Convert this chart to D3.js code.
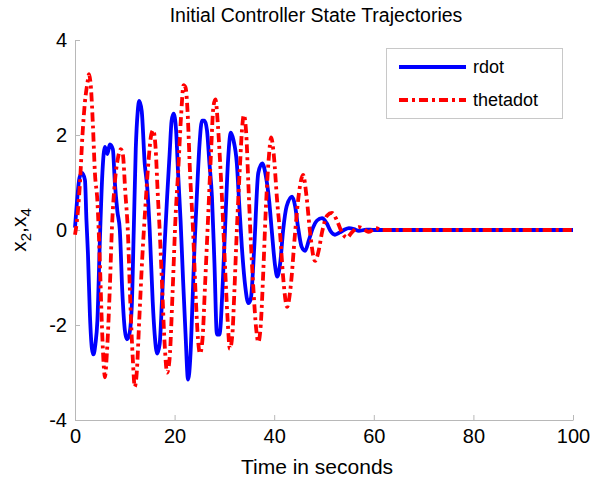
<!DOCTYPE html>
<html>
<head>
<meta charset="utf-8">
<script src="https://cdn.jsdelivr.net/npm/d3@7"></script>
<style>
  html, body { margin: 0; padding: 0; background: #fff; }
  svg { display: block; font-family: "Liberation Sans", Arial, Helvetica, sans-serif; }
</style>
</head>
<body>
<svg id="chart" width="592" height="483"></svg>
<script>
// ---- data ----
const xTicks = [0, 20, 40, 60, 80, 100];
const yTicks = [-4, -2, 0, 2, 4];
const seriesNames = ["rdot", "thetadot"];

const rdotT = [0, 0.4, 0.9, 1.4, 2.0, 2.3, 2.6, 3.0, 3.4, 3.7, 4.1, 4.5, 5.0, 5.5, 6.0, 6.5, 7.0, 7.6, 8.0, 8.5, 9.0, 9.5, 10.0, 10.4, 10.9, 11.4, 11.8, 12.2, 12.6, 12.9, 13.4, 14.0, 14.5, 15.0, 15.6, 16.0, 16.5, 17.0, 17.5, 18.0, 18.5, 19.0, 19.4, 19.8, 20.3, 20.7, 21.2, 21.7, 22.2, 22.7, 23.2, 23.6, 24.0, 24.5, 25.0, 25.5, 26.0, 26.5, 27.0, 27.5, 28.0, 28.5, 29.0, 29.7, 30.2, 30.7, 31.3, 31.8, 32.5, 33.0, 33.5, 34.2, 34.8, 35.3, 36.0, 36.8, 37.6, 38.3, 39.0, 39.5, 40.2, 40.6, 41.2, 41.8, 42.5, 43.6, 44.2, 44.8, 45.5, 46.2, 47.0, 47.8, 48.6, 49.6, 50.5, 51.3, 52.2, 53.2, 54.0, 55.0, 56.0, 57.0, 58.5, 60.0, 100];
const rdotV = [0.05, 0.6, 1.1, 1.2, 1.05, 0.2, -0.5, -1.8, -2.5, -2.62, -2.4, -1.9, -0.2, 1.2, 1.75, 1.6, 1.8, 1.7, 1.0, 0.4, 0.0, -1.3, -2.1, -2.3, -2.2, -1.6, 0.0, 1.7, 2.5, 2.72, 2.5, 1.4, 0.9, 0.0, -1.5, -2.2, -2.6, -2.4, -1.4, -0.3, 0.7, 1.6, 2.3, 2.45, 2.1, 1.2, 0.2, -1.05, -2.2, -3.15, -2.6, -1.5, -0.35, 0.8, 1.8, 2.3, 2.3, 2.1, 1.4, 0.7, -0.7, -2.2, -2.2, -1.05, 0.2, 1.4, 2.05, 1.9, 1.4, 0.5, -0.35, -1.2, -1.54, -1.45, -0.35, 1.2, 1.4, 1.15, 0.6, 0.0, -0.77, -0.98, -0.7, 0.0, 0.5, 0.7, 0.5, 0.05, -0.35, -0.44, -0.2, 0.05, 0.2, 0.25, 0.15, -0.02, -0.1, -0.05, 0.0, 0.04, 0.02, -0.02, 0.01, 0.0, 0.0];

const thetadotT = [0, 0.5, 1.0, 1.5, 2.0, 2.5, 2.8, 3.2, 3.6, 4.0, 4.5, 5.0, 5.4, 5.8, 6.0, 6.4, 7.0, 7.4, 8.0, 8.6, 9.2, 9.6, 10.1, 10.6, 11.1, 11.6, 12.0, 12.4, 12.9, 13.5, 14.2, 14.8, 15.3, 15.7, 16.2, 16.6, 17.0, 17.5, 18.0, 18.5, 19.0, 19.6, 20.2, 20.7, 21.3, 21.8, 22.2, 22.6, 23.1, 23.7, 24.2, 24.7, 25.1, 25.6, 26.1, 26.7, 27.3, 27.8, 28.2, 28.7, 29.1, 29.5, 30.1, 30.6, 31.1, 31.6, 32.0, 32.5, 33.1, 33.6, 33.9, 34.4, 34.8, 35.2, 35.8, 36.4, 36.8, 37.3, 37.8, 38.3, 38.9, 39.4, 39.9, 40.6, 41.2, 41.8, 42.6, 43.3, 44.2, 45.0, 45.8, 46.5, 47.2, 48.2, 48.9, 49.6, 50.6, 51.6, 52.6, 53.6, 54.6, 55.6, 57.0, 58.2, 59.0, 60.4, 61.5, 100];
const thetadotV = [-0.1, 0.3, 1.0, 2.0, 2.7, 3.1, 3.28, 3.0, 2.2, 1.2, 0.6, -0.7, -2.0, -2.9, -3.1, -2.6, -1.2, 0.0, 1.0, 1.5, 1.7, 1.6, 0.8, 0.0, -1.5, -2.7, -3.3, -3.0, -1.9, -0.6, 0.6, 1.5, 2.0, 2.1, 1.7, 0.8, 0.0, -1.2, -2.4, -3.0, -2.7, -1.3, 0.3, 1.2, 2.4, 3.05, 3.0, 2.5, 1.2, 0.0, -1.3, -2.3, -2.6, -2.3, -1.2, 0.2, 1.6, 2.6, 2.75, 2.2, 1.5, 0.7, -0.7, -1.8, -2.5, -2.2, -1.3, 0.0, 1.3, 2.2, 2.42, 2.0, 1.0, 0.0, -1.2, -2.1, -2.36, -2.0, -0.9, 0.4, 1.5, 1.95, 1.6, 0.6, -0.1, -1.0, -1.62, -1.2, -0.05, 0.8, 1.16, 0.7, -0.05, -0.65, -0.45, -0.05, 0.3, 0.36, 0.2, -0.05, -0.16, -0.05, 0.06, 0.0, -0.04, 0.04, 0.0, 0.0];

// ---- layout ----
const svg = d3.select("#chart");
const margin = { left: 75, right: 19, top: 40, bottom: 63 };
const W = 592, H = 483;
const x = d3.scaleLinear().domain([0, 100]).range([margin.left, W - margin.right]);
const y = d3.scaleLinear().domain([-4, 4]).range([H - margin.bottom, margin.top]);

const axisColor = "#b8b8b8";
const fontSize = 20;

// axes
const xAxis = svg.append("g")
  .attr("transform", `translate(0,${y(-4)})`)
  .call(d3.axisBottom(x).tickValues(xTicks).tickSizeInner(-5).tickSizeOuter(0).tickPadding(9).tickFormat(d => String(d)));
const yAxis = svg.append("g")
  .attr("transform", `translate(${x(0)},0)`)
  .call(d3.axisLeft(y).tickValues(yTicks).tickSizeInner(-5).tickSizeOuter(0).tickPadding(8).tickFormat(d => String(d)));
[xAxis, yAxis].forEach(a => {
  a.select(".domain").attr("stroke", axisColor).attr("stroke-width", 1);
  a.selectAll(".tick line").attr("stroke", axisColor);
  a.selectAll(".tick text").attr("fill", "#000").style("font-size", fontSize + "px")
    .style("font-family", '"Liberation Sans", Arial, sans-serif');
});

// lines
const line = d3.line().x(d => x(d[0])).y(d => y(d[1])).curve(d3.curveMonotoneX);
const rdot = rdotT.map((t, i) => [t, rdotV[i]]);
const thetadot = thetadotT.map((t, i) => [t, thetadotV[i]]);

svg.append("path").datum(rdot).attr("d", line)
  .attr("fill", "none").attr("stroke", "#0000ff").attr("stroke-width", 3.8)
  .attr("stroke-linejoin", "round");
svg.append("path").datum(thetadot).attr("d", line)
  .attr("fill", "none").attr("stroke", "#ff0000").attr("stroke-width", 3.8)
  .attr("stroke-dasharray", "9,4,3,4");

// title
svg.append("text").attr("x", 316).attr("y", 22).attr("text-anchor", "middle")
  .style("font-size", "19.5px").text("Initial Controller State Trajectories");

// x label
svg.append("text").attr("x", 317).attr("y", 474).attr("text-anchor", "middle")
  .style("font-size", "21px").text("Time in seconds");

// y label with subscripts
const yl = svg.append("text").attr("transform", `translate(26,${y(0)}) rotate(-90)`)
  .attr("text-anchor", "middle").style("font-size", "21px");
yl.append("tspan").text("x");
yl.append("tspan").attr("dy", 5).style("font-size", "15px").text("2");
yl.append("tspan").attr("dy", -5).text(",x");
yl.append("tspan").attr("dy", 5).style("font-size", "15px").text("4");

// legend
const lg = svg.append("g");
lg.append("rect").attr("x", 386.5).attr("y", 48.5).attr("width", 176).attr("height", 70)
  .attr("fill", "#fff").attr("stroke", "#c8c8c8");
const legendStyles = [
  { color: "#0000ff", dash: null },
  { color: "#ff0000", dash: "9,4,3,4" }
];
seriesNames.forEach((name, i) => {
  const ly = 67 + i * 33;
  lg.append("line").attr("x1", 399).attr("x2", 466).attr("y1", ly).attr("y2", ly)
    .attr("stroke", legendStyles[i].color).attr("stroke-width", 3.8)
    .attr("stroke-dasharray", legendStyles[i].dash);
  lg.append("text").attr("x", 473).attr("y", ly).attr("dy", "0.35em")
    .style("font-size", "18px").text(name);
});
</script>
</body>
</html>
